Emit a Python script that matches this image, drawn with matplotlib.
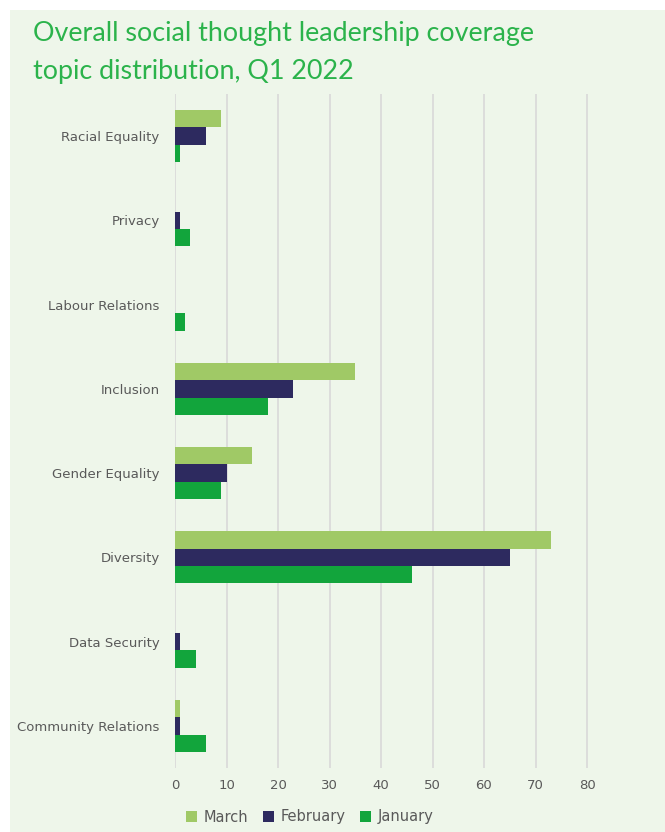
import matplotlib
matplotlib.use("Agg")
import matplotlib.pyplot as plt
import numpy as np

categories = ["Racial Equality", "Privacy", "Labour Relations", "Inclusion",
              "Gender Equality", "Diversity", "Data Security", "Community Relations"]
march = [9, 0, 0, 35, 15, 73, 0, 1]
february = [6, 1, 0, 23, 10, 65, 1, 1]
january = [1, 3, 2, 18, 9, 46, 4, 6]
series_names = ["March", "February", "January"]
colors = ["#A0C966", "#2D2A5F", "#12A53C"]
xticks = [0, 10, 20, 30, 40, 50, 60, 70, 80]

W, H = 665, 832
fig = plt.figure(figsize=(W / 100, H / 100), dpi=100)
fig.patch.set_facecolor("white")
bg = "#EEF6EA"
rect = plt.Rectangle((10 / W, 0), 1 - 10 / W, 1 - 10 / H,
                     transform=fig.transFigure, facecolor=bg,
                     edgecolor="none", zorder=-10)
fig.add_artist(rect)

ax = fig.add_axes([175 / W, 1 - 768 / H, (610 - 175) / W, (768 - 94) / H])
ax.set_zorder(1)
ax.set_facecolor(bg)
n = len(categories)
y = np.arange(n)
bh = 0.205
for i, (vals, name, c) in enumerate(zip([march, february, january], series_names, colors)):
    ax.barh(y + (i - 1) * bh, vals, height=bh, color=c, label=name, zorder=3)

ax.set_ylim(n - 0.5, -0.5)
ax.set_xlim(0, 80 * (610 - 175) / (587 - 175))
ax.set_xticks(xticks)
ax.set_yticks(y)
ax.set_yticklabels(categories)
ax.tick_params(axis="both", length=0, colors="#595959", labelsize=9.5)
ax.tick_params(axis="y", pad=11)
ax.tick_params(axis="x", pad=8)
ax.xaxis.grid(True, color="#D9D9D9", linewidth=1.2, zorder=0)
for s in ax.spines.values():
    s.set_visible(False)

fig.text(33 / W, 1 - 33 / H, "Overall social thought leadership coverage",
         color="#2BB34B", fontsize=19.4, family="Lato",
         va="center", ha="left")
fig.text(33 / W, 1 - 71 / H, "topic distribution, Q1 2022",
         color="#2BB34B", fontsize=19.4, family="Lato",
         va="center", ha="left")

leg = fig.legend(loc="center", bbox_to_anchor=(310 / W, 1 - 817 / H), ncol=3,
                 frameon=False, fontsize=10.5, handlelength=0.75, handleheight=0.75,
                 columnspacing=1.0, handletextpad=0.45)
for t in leg.get_texts():
    t.set_color("#595959")

fig.savefig("out.png", dpi=100, facecolor="white")
